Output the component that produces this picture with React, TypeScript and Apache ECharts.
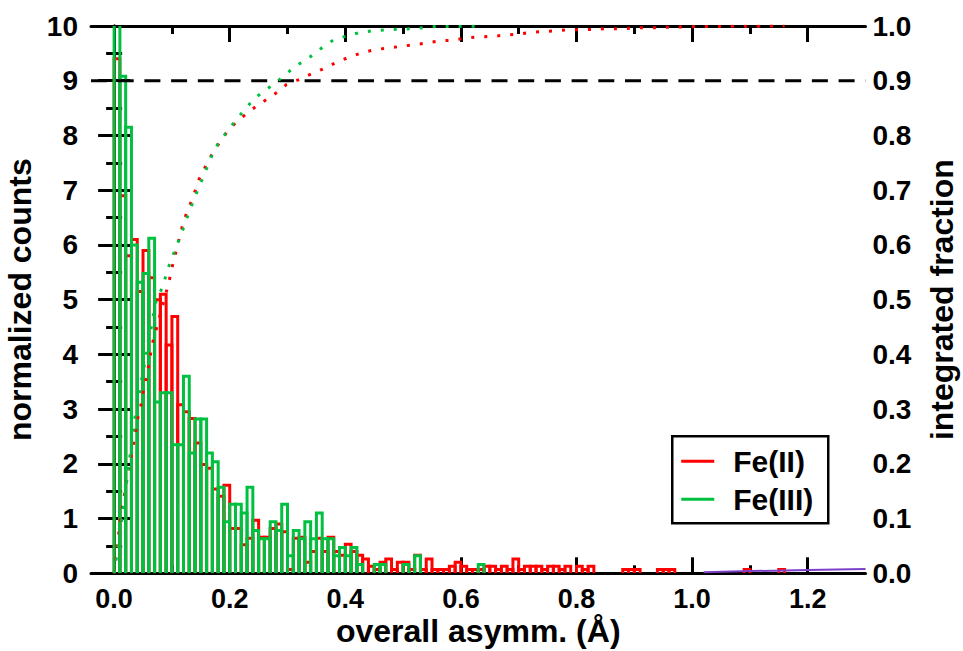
import React, { useEffect, useRef } from "react";
import * as echarts from "echarts";

// histogram bins: width 0.01 Å starting at 0.0
const binWidth = 0.01;
const fe2Counts = [
  9.4, 6.9, 5.8, 6.1, 5.15, 5.9, 5.4, 5.0, 5.1, 4.17,
  4.69, 3.08, 2.95, 2.83, 2.38, 1.99, 1.92, 1.54, 1.41, 1.61,
  0.82, 0.82, 0.52, 0.64, 0.97, 0.66, 0.66, 0.82, 0.9, 0.76,
  0.07, 0.64, 0.66, 0.2, 0.4, 0.64, 0.4, 0.66, 0.4, 0.33,
  0.53, 0.4, 0.33, 0.26, 0.13, 0.07, 0.2, 0.26, 0.07, 0.2,
  0.2, 0.07, 0.33, 0.07, 0.26, 0.07, 0.07, 0.07, 0.13, 0.2,
  0.13, 0.07, 0.07, 0.07, 0.13, 0.13, 0.07, 0.13, 0.07, 0.26,
  0.07, 0.13, 0.13, 0.13, 0.07, 0.13, 0.13, 0.07, 0.13, 0,
  0.13, 0.07, 0.13, 0, 0, 0, 0, 0, 0.07, 0.07,
  0.07, 0, 0, 0, 0.07, 0.07, 0.07, 0, 0, 0,
  0, 0, 0, 0, 0, 0, 0, 0, 0, 0.07,
  0, 0, 0, 0, 0, 0.07,
];
const fe3Counts = [
  11.0, 9.08, 8.15, 6.0, 5.32, 5.48, 6.12, 3.13, 3.3, 3.3,
  2.35, 2.35, 3.6, 2.2, 2.82, 2.82, 2.2, 2.04, 1.57, 0.94,
  1.26, 1.26, 1.1, 1.57, 0.78, 0.63, 0.63, 0.94, 0.78, 1.26,
  0.32, 0.78, 0.63, 0.94, 0.63, 1.1, 0.63, 0.63, 0.32, 0.47,
  0.32, 0.47, 0.16, 0, 0, 0.16, 0.16, 0, 0, 0,
  0.16, 0, 0.32, 0, 0, 0, 0, 0, 0, 0,
  0, 0, 0, 0.16,
];

// integrated fraction (right axis)
const fe2CumX = [0, 0.005, 0.01, 0.02, 0.027, 0.031, 0.035, 0.038, 0.042, 0.046, 0.052, 0.057, 0.063, 0.0675, 0.095, 0.1, 0.104, 0.112, 0.118, 0.124, 0.137, 0.147, 0.158, 0.167, 0.174, 0.199, 0.232, 0.254, 0.276, 0.298, 0.32, 0.342, 0.365, 0.387, 0.409, 0.431, 0.453, 0.475, 0.498, 0.52, 0.541, 0.564, 0.586, 0.608, 0.631, 0.653, 0.674, 0.697, 0.719, 0.741, 0.763, 0.785, 0.807, 0.83, 0.851, 0.874, 0.896, 0.918, 0.94, 0.962, 0.984, 1.006, 1.16];
const fe2CumY = [0, 0.05, 0.09, 0.16, 0.2, 0.22, 0.245, 0.265, 0.29, 0.305, 0.34, 0.362, 0.4, 0.425, 0.533, 0.558, 0.575, 0.609, 0.634, 0.654, 0.689, 0.72, 0.743, 0.761, 0.774, 0.812, 0.843, 0.859, 0.874, 0.893, 0.902, 0.913, 0.923, 0.935, 0.944, 0.952, 0.957, 0.96, 0.963, 0.966, 0.969, 0.973, 0.974, 0.978, 0.98, 0.981, 0.983, 0.985, 0.988, 0.99, 0.991, 0.993, 0.993, 0.994, 0.995, 0.995, 0.996, 0.997, 0.997, 0.998, 0.998, 0.999, 1.0];
const fe3CumX = [0, 0.0135, 0.037, 0.042, 0.046, 0.073, 0.083, 0.095, 0.108, 0.119, 0.131, 0.142, 0.153, 0.164, 0.173, 0.181, 0.21, 0.221, 0.243, 0.27, 0.292, 0.313, 0.336, 0.358, 0.38, 0.403, 0.425, 0.446, 0.469, 0.491, 0.513, 0.535, 0.557, 0.579, 0.64];
const fe3CumY = [0, 0.1, 0.292, 0.319, 0.344, 0.5, 0.521, 0.562, 0.598, 0.628, 0.664, 0.693, 0.721, 0.75, 0.773, 0.787, 0.827, 0.841, 0.868, 0.889, 0.907, 0.926, 0.941, 0.959, 0.975, 0.982, 0.988, 0.991, 0.993, 0.994, 0.995, 0.997, 0.999, 0.999, 1.0];

// faint purple trace at the far right (normalized counts)
const tailX = [1.02, 1.1, 1.2, 1.3];
const tailY = [0.02, 0.04, 0.06, 0.08];

const thresholdLevel = 9;
const xMajorTicks = [0, 0.2, 0.4, 0.6, 0.8, 1.0, 1.2];
const xMinorTicks = [0.1, 0.3, 0.5, 0.7, 0.9, 1.1];

const RED = "#ff0000";
const GREEN = "#00c040";
const FONT = "'Liberation Sans', Arial, Helvetica, sans-serif";

function histData(counts: number[]) {
  return counts.map((c, i) => [i * binWidth, (i + 1) * binWidth, c]);
}

function histSeries(name: string, counts: number[], color: string, z: number) {
  return {
    name,
    type: "custom",
    xAxisIndex: 0,
    yAxisIndex: 0,
    clip: true,
    z,
    data: histData(counts),
    renderItem: (params: any, api: any) => {
      const x0 = api.value(0);
      const x1 = api.value(1);
      const h = api.value(2);
      if (!(h > 0)) return null;
      const b0 = api.coord([x0, 0]);
      const t1 = api.coord([x1, h]);
      return {
        type: "polyline",
        shape: {
          points: [
            [b0[0], b0[1]],
            [b0[0], t1[1]],
            [t1[0], t1[1]],
            [t1[0], b0[1]],
          ],
        },
        style: { fill: null, stroke: color, lineWidth: 3, lineJoin: "miter" },
      };
    },
  };
}

export default function App() {
  const ref = useRef<HTMLDivElement>(null);
  useEffect(() => {
    document.body.style.margin = "0";
    if (!ref.current) return;
    const chart = echarts.init(ref.current, null, { renderer: "svg" });
    const axisLine = { show: true, lineStyle: { color: "#000", width: 3 } };
    const labelStyle = { color: "#000", fontFamily: FONT, fontWeight: "bold", fontSize: 28 };
    const nameStyle = { color: "#000", fontFamily: FONT, fontWeight: "bold", fontSize: 32 };
    const option: any = {
      animation: false,
      backgroundColor: "#fff",
      grid: { left: 91, right: 97.5, top: 26, bottom: 77.7, containLabel: false, outerBoundsMode: "none" },
      xAxis: [
        {
          type: "value", min: -0.04, max: 1.3, position: "bottom",
          axisLine, splitLine: { show: false },
          axisTick: { show: true, inside: true, length: 16, lineStyle: { color: "#000", width: 3 }, customValues: xMajorTicks },
          axisLabel: { ...labelStyle, fontSize: 27, lineHeight: 24, margin: 14, customValues: xMajorTicks, formatter: (v: number) => v.toFixed(1) },
          name: "overall asymm. (Å)", nameLocation: "middle", nameGap: 44, nameMoveOverlap: false,
          nameTextStyle: { ...nameStyle, lineHeight: 28 },
        },
        {
          type: "value", min: -0.04, max: 1.3, position: "bottom",
          axisLine: { show: false }, splitLine: { show: false }, axisLabel: { show: false },
          axisTick: { show: true, inside: true, length: 8, lineStyle: { color: "#000", width: 3 }, customValues: xMinorTicks },
        },
        {
          type: "value", min: -0.04, max: 1.3, position: "top",
          axisLine, splitLine: { show: false }, axisLabel: { show: false },
          axisTick: { show: true, inside: true, length: 16, lineStyle: { color: "#000", width: 3 }, customValues: xMajorTicks },
        },
        {
          type: "value", min: -0.04, max: 1.3, position: "top",
          axisLine: { show: false }, splitLine: { show: false }, axisLabel: { show: false },
          axisTick: { show: true, inside: true, length: 8, lineStyle: { color: "#000", width: 3 }, customValues: xMinorTicks },
        },
      ],
      yAxis: [
        {
          type: "value", min: 0, max: 10, interval: 1, position: "left",
          axisLine, splitLine: { show: false },
          axisTick: { show: true, inside: true, length: 16, lineStyle: { color: "#000", width: 3 } },
          minorTick: { show: true, splitNumber: 2, length: 8, lineStyle: { color: "#000", width: 3 } },
          minorSplitLine: { show: false },
          axisLabel: { ...labelStyle, margin: 13 },
          name: "normalized counts", nameLocation: "middle", nameGap: 45, nameTextStyle: nameStyle,
        },
        {
          type: "value", min: 0, max: 1, interval: 0.1, position: "right",
          axisLine, splitLine: { show: false },
          axisTick: { show: true, inside: true, length: 16, lineStyle: { color: "#000", width: 3 } },
          minorTick: { show: true, splitNumber: 2, length: 8, lineStyle: { color: "#000", width: 3 } },
          minorSplitLine: { show: false },
          axisLabel: { ...labelStyle, margin: 7, formatter: (v: number) => v.toFixed(1) },
          name: "integrated fraction", nameLocation: "middle", nameGap: 60, nameRotate: 90, nameTextStyle: nameStyle,
        },
      ],
      series: [
        histSeries("Fe(II)", fe2Counts, RED, 2),
        histSeries("Fe(III)", fe3Counts, GREEN, 3),
        {
          name: "threshold", type: "line", xAxisIndex: 0, yAxisIndex: 0, z: 4,
          data: [[-0.04, thresholdLevel], [1.3, thresholdLevel]],
          symbol: "none", silent: true,
          lineStyle: { color: "#000", width: 3, type: [16, 10.7] },
        },
        {
          name: "tail", type: "line", xAxisIndex: 0, yAxisIndex: 0, z: 4,
          data: tailX.map((x, i) => [x, tailY[i]]),
          symbol: "none", silent: true,
          lineStyle: { color: "#7b3fc8", width: 2 },
        },
        {
          name: "Fe(II) integrated", type: "line", xAxisIndex: 0, yAxisIndex: 1, z: 5,
          data: fe2CumX.map((x, i) => [x, fe2CumY[i]]),
          symbol: "none", silent: true,
          lineStyle: { color: RED, width: 3, type: [3, 10], cap: "butt" },
        },
        {
          name: "Fe(III) integrated", type: "line", xAxisIndex: 0, yAxisIndex: 1, z: 5,
          data: fe3CumX.map((x, i) => [x, fe3CumY[i]]),
          symbol: "none", silent: true,
          lineStyle: { color: GREEN, width: 3, type: [3, 10], cap: "butt" },
        },
      ],
      graphic: [
        {
          type: "group", left: 671, top: 435, z: 100,
          children: [
            { type: "rect", shape: { x: 0, y: 0, width: 156, height: 87 }, style: { fill: "#fff", stroke: "#000", lineWidth: 2.5 } },
            { type: "line", shape: { x1: 9, y1: 25, x2: 42, y2: 25 }, style: { stroke: RED, lineWidth: 3 } },
            { type: "line", shape: { x1: 9, y1: 63, x2: 42, y2: 63 }, style: { stroke: GREEN, lineWidth: 3 } },
            { type: "text", x: 61, y: 25, style: { text: "Fe(II)", fill: "#000", font: `bold 30px ${FONT}`, verticalAlign: "middle", align: "left" } },
            { type: "text", x: 61, y: 63, style: { text: "Fe(III)", fill: "#000", font: `bold 30px ${FONT}`, verticalAlign: "middle", align: "left" } },
          ],
        },
      ],
    };
    chart.setOption(option);
    return () => chart.dispose();
  }, []);
  return <div ref={ref} style={{ width: 963, height: 651 }} />;
}
